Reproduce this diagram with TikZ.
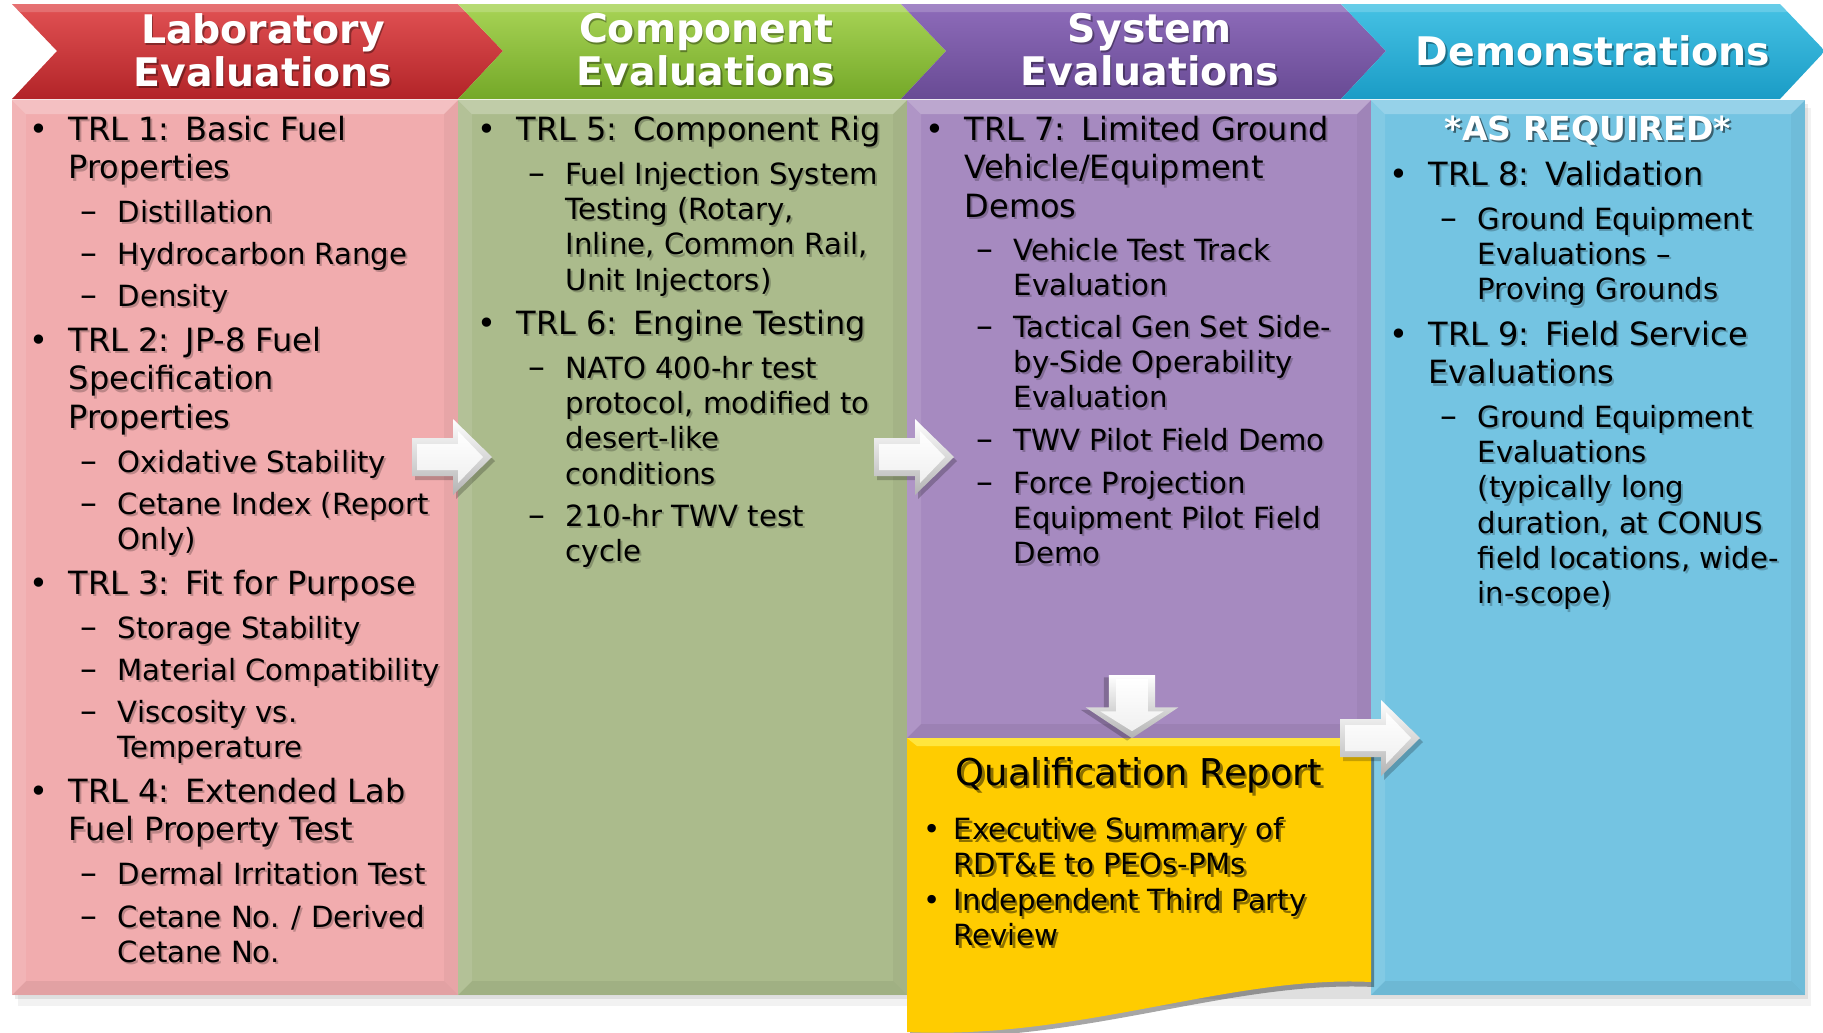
\documentclass[tikz,border=0pt]{standalone}
\usepackage{fontspec}
\setmainfont{DejaVu Sans}

\definecolor{labtop}{RGB}{226,82,84}
\definecolor{labbot}{RGB}{178,36,40}
\definecolor{labpink}{RGB}{241,172,174}
\definecolor{comptop}{RGB}{168,212,86}
\definecolor{compbot}{RGB}{116,168,40}
\definecolor{compsage}{RGB}{171,187,140}
\definecolor{systop}{RGB}{142,108,186}
\definecolor{sysbot}{RGB}{104,74,148}
\definecolor{syslilac}{RGB}{166,138,192}
\definecolor{demotop}{RGB}{70,194,228}
\definecolor{demobot}{RGB}{26,156,198}
\definecolor{demosky}{RGB}{116,196,226}
\definecolor{qryellow}{RGB}{255,204,0}

% one column body with a light bevel
\newcommand\colpanel[5]{%
  \fill[#5] (#1,#2) rectangle (#3,#4);
  \fill[white, opacity=.25] (#1,#2) -- (#3,#2) -- (#3-14,#2+14) -- (#1+14,#2+14) -- cycle;
  \fill[white, opacity=.10] (#1,#2) -- (#1+14,#2+14) -- (#1+14,#4-14) -- (#1,#4) -- cycle;
  \fill[black, opacity=.04] (#3,#2) -- (#3,#4) -- (#3-14,#4-14) -- (#3-14,#2+14) -- cycle;
  \fill[black, opacity=.06] (#1,#4) -- (#3,#4) -- (#3-14,#4-14) -- (#1+14,#4-14) -- cycle;
}

% lines of one item, baseline on the first line
\newcommand\itemlines[1]{\begin{tabular}[t]{@{}l@{}}#1\end{tabular}}

% TRL bullet, #2 = left edge of its text
\newcommand\trlitem[4]{%
  \node[bodytxt, trlfont, softshadow] (#1-sh) at (#2+2,#3+2.5) {\itemlines{#4}};
  \node[bodytxt, trlfont] (#1) at (#2,#3) {\itemlines{#4}};
  \node[bodytxt, trlfont, anchor=base] (#1-dot) at (#2-29,#3) {\textbullet};
}
% dash item under a TRL bullet
\newcommand\detitem[4]{%
  \node[bodytxt, detfont, softshadow] (#1-sh) at (#2+51,#3+2.5) {\itemlines{#4}};
  \node[bodytxt, detfont] (#1) at (#2+49,#3) {\itemlines{#4}};
  \node[bodytxt, font=\fontsize{9.6}{10}\selectfont] (#1-dash) at (#2+12,#3) {--};
}
% bullet on the report sheet
\newcommand\qritem[4]{%
  \node[bodytxt, qrfont, text=black, text opacity=.45] (#1-sh) at (#2+2.5,#3+3) {\itemlines{#4}};
  \node[bodytxt, qrfont] (#1) at (#2,#3) {\itemlines{#4}};
  \node[bodytxt, qrfont, anchor=base] (#1-dot) at (#2-21,#3) {\textbullet};
}
% white header text
\newcommand\headtext[4]{%
  \node[headtxt, text=black, text opacity=.35] (#1-sh) at (#2+1.5,#3+2) {#4};
  \node[headtxt] (#1) at (#2,#3) {#4};
}

\tikzset{
  pics/blockarrow/.style={code={
    \fill[black, opacity=.22] (3,-15) -- (44,-15) -- (44,-34) -- (83,4) -- (44,42) -- (44,23) -- (3,23) -- cycle;
    \shade[top color=white, bottom color=gray!60] (0,-19) -- (41,-19) -- (41,-38) -- (80,0) -- (41,38) -- (41,19) -- (0,19) -- cycle;
    \shade[top color=white, bottom color=gray!12] (5,-13) -- (46,-13) -- (46,-26) -- (71,0) -- (46,26) -- (46,13) -- (5,13) -- cycle;
  }}
}

\begin{document}
\begin{tikzpicture}[x=0.01cm, y=-0.01cm,
    bodytxt/.style={anchor=base west, inner sep=0pt},
    trlfont/.style={font=\fontsize{9.1}{10.95}\selectfont},
    detfont/.style={font=\fontsize{8.3}{10.05}\selectfont},
    qrfont/.style={font=\fontsize{8.3}{9.95}\selectfont},
    softshadow/.style={text=black, text opacity=.22},
    headtxt/.style={text=white, align=center, inner sep=0pt,
                    font=\fontsize{11.2}{12.3}\selectfont\bfseries}]
  \useasboundingbox (0,0) rectangle (1823,1032);

  % shadow under the columns
  \fill[black, opacity=.05] (18,108) rectangle (1811,1006);
  \fill[black, opacity=.08] (15,104) rectangle (1808,999);

  % column bodies
  \colpanel{12}{100}{458}{995}{labpink}
  \colpanel{458}{100}{907}{995}{compsage}
  \colpanel{907}{100}{1371}{738}{syslilac}
  \colpanel{1371}{100}{1805}{995}{demosky}

  % report sheet with wavy foot
  \fill[black, opacity=.35] (910,741) -- (1374,741) -- (1374,987)
     .. controls (1230,980) and (1080,1045) .. (910,1036) -- cycle;
  \fill[qryellow] (907,738) -- (1371,738) -- (1371,982)
     .. controls (1230,975) and (1080,1040) .. (907,1032) -- cycle;
  \fill[yellow!60!white, opacity=.6] (907,738) -- (1371,738) -- (1361,746) -- (917,746) -- cycle;

  % chevron headers
  \shade[top color=labtop, bottom color=labbot]
    (12,4) -- (458,4) -- (503,51) -- (458,99) -- (12,99) -- (57,51) -- cycle;
  \shade[top color=comptop, bottom color=compbot]
    (458,4) -- (901,4) -- (946,51) -- (901,99) -- (458,99) -- (503,51) -- cycle;
  \shade[top color=systop, bottom color=sysbot]
    (901,4) -- (1341,4) -- (1386,51) -- (1341,99) -- (901,99) -- (946,51) -- cycle;
  \shade[top color=demotop, bottom color=demobot]
    (1341,4) -- (1780,4) -- (1825,51) -- (1780,99) -- (1341,99) -- (1386,51) -- cycle;
  \foreach \xa/\xb in {12/458, 458/901, 901/1341, 1341/1780}
    \fill[white, opacity=.18] (\xa,4) -- (\xb,4) -- (\xb+8,12) -- (\xa+8,12) -- cycle;

  \headtext{labhead}{263}{50}{Laboratory\\Evaluations}
  \headtext{comphead}{706}{50}{Component\\Evaluations}
  \headtext{syshead}{1150}{50}{System\\Evaluations}
  \headtext{demohead}{1593}{51}{Demonstrations}

  % laboratory column
  \trlitem{trl1}{68}{140}{TRL 1:\enspace Basic Fuel\\Properties}
  \detitem{dist}{68}{222}{Distillation}
  \detitem{hcr}{68}{264}{Hydrocarbon Range}
  \detitem{dens}{68}{306}{Density}
  \trlitem{trl2}{68}{351}{TRL 2:\enspace JP-8 Fuel\\Specification\\Properties}
  \detitem{oxs}{68}{472}{Oxidative Stability}
  \detitem{cix}{68}{514}{Cetane Index (Report\\Only)}
  \trlitem{trl3}{68}{594}{TRL 3:\enspace Fit for Purpose}
  \detitem{sts}{68}{638}{Storage Stability}
  \detitem{mcp}{68}{680}{Material Compatibility}
  \detitem{vis}{68}{722}{Viscosity vs.\\Temperature}
  \trlitem{trl4}{68}{802}{TRL 4:\enspace Extended Lab\\Fuel Property Test}
  \detitem{dit}{68}{884}{Dermal Irritation Test}
  \detitem{cno}{68}{927}{Cetane No. / Derived\\Cetane No.}

  % component column
  \trlitem{trl5}{516}{140}{TRL 5:\enspace Component Rig}
  \detitem{fis}{516}{184}{Fuel Injection System\\Testing (Rotary,\\Inline, Common Rail,\\Unit Injectors)}
  \trlitem{trl6}{516}{334}{TRL 6:\enspace Engine Testing}
  \detitem{nato}{516}{378}{NATO 400-hr test\\protocol, modified to\\desert-like\\conditions}
  \detitem{twv}{516}{526}{210-hr TWV test\\cycle}

  % system column
  \trlitem{trl7}{964}{140}{TRL 7:\enspace Limited Ground\\Vehicle/Equipment\\Demos}
  \detitem{vtt}{964}{260}{Vehicle Test Track\\Evaluation}
  \detitem{tgs}{964}{337}{Tactical Gen Set Side-\\by-Side Operability\\Evaluation}
  \detitem{pfd}{964}{450}{TWV Pilot Field Demo}
  \detitem{fpe}{964}{493}{Force Projection\\Equipment Pilot Field\\Demo}

  % demonstration column
  \node[anchor=base, inner sep=0pt, text=black, text opacity=.5,
        font=\fontsize{9.4}{11}\selectfont\bfseries] (asreq-sh) at (1590,142.5) {*AS REQUIRED*};
  \node[anchor=base, inner sep=0pt, text=white,
        font=\fontsize{9.4}{11}\selectfont\bfseries] (asreq) at (1588,140) {*AS REQUIRED*};
  \trlitem{trl8}{1428}{185}{TRL 8:\enspace Validation}
  \detitem{gee}{1428}{229}{Ground Equipment\\Evaluations --\\Proving Grounds}
  \trlitem{trl9}{1428}{345}{TRL 9:\enspace Field Service\\Evaluations}
  \detitem{gel}{1428}{427}{Ground Equipment\\Evaluations\\(typically long\\duration, at CONUS\\field locations, wide-\\in-scope)}

  % report sheet text
  \node[anchor=base, inner sep=0pt, text=black, text opacity=.45,
        font=\fontsize{10.5}{12}\selectfont] (qrtitle-sh) at (1141.5,788) {Qualification Report};
  \node[anchor=base, inner sep=0pt, font=\fontsize{10.5}{12}\selectfont] (qrtitle) at (1139,785) {Qualification Report};
  \qritem{exs}{953}{839}{Executive Summary of\\RDT\&E to PEOs-PMs}
  \qritem{itp}{953}{910}{Independent Third Party\\Review}

  % flow arrows
  \pic (labtocomp) at (412,457) {blockarrow};
  \pic (comptosys) at (874,457) {blockarrow};
  \pic[rotate=-90, xscale=.79, yscale=1.22] (systoqr) at (1132,675) {blockarrow};
  \pic (qrtodemo) at (1340,738) {blockarrow};
\end{tikzpicture}
\end{document}
